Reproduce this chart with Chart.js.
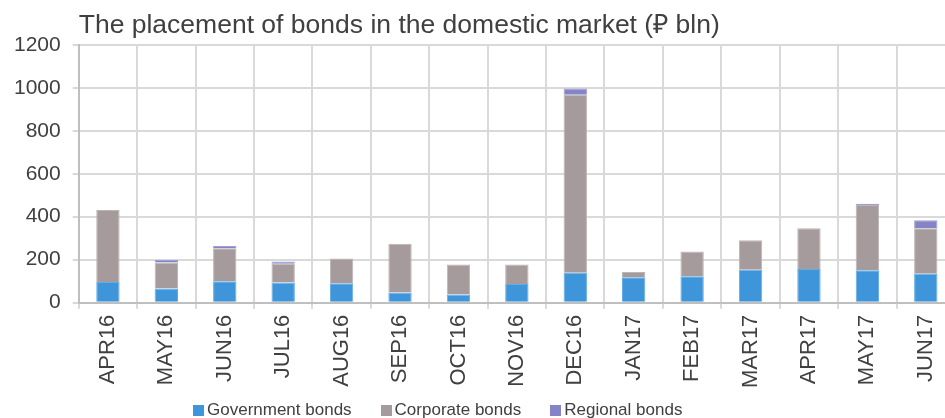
<!DOCTYPE html>
<html>
<head>
<meta charset="utf-8">
<title>Bond placement</title>
<script src="https://cdn.jsdelivr.net/npm/chart.js@4.4.1/dist/chart.umd.min.js"></script>
<style>
  html, body { margin: 0; padding: 0; background: #fff; overflow: hidden; }
  .chart-box { position: relative; width: 960px; height: 418px; }
  #legend {
    position: absolute; left: 193px; top: 400px;
    display: flex; gap: 29px;
    font: 17px "Liberation Sans", Arial, sans-serif; color: #404040;
  }
  .legend-item { display: flex; align-items: center; white-space: nowrap; }
  .legend-item__box { width: 11px; height: 11px; margin-right: 3px; }
</style>
</head>
<body>
<div class="chart-box">
  <canvas id="bondsChart"></canvas>
  <div id="legend"></div>
</div>
<script>
/* Monthly placement of bonds, RUB bln */
const MONTHS = ["APR16", "MAY16", "JUN16", "JUL16", "AUG16", "SEP16", "OCT16", "NOV16",
  "DEC16", "JAN17", "FEB17", "MAR17", "APR17", "MAY17", "JUN17"];
const GOVERNMENT = [96, 66, 99, 94, 90, 47, 38, 87, 139, 118, 123, 153, 156, 151, 134];
const CORPORATE = [335, 121, 154, 87, 115, 227, 140, 91, 828, 25, 115, 137, 190, 304, 212];
const REGIONAL = [0, 11, 11, 11, 0, 0, 0, 0, 30, 0, 0, 0, 0, 5, 38];
const Y_TICKS = [0, 200, 400, 600, 800, 1000, 1200];

const TEXT_COLOR = "#404040";
const GRID_COLOR = "#d9d9d9";
const AXIS_COLOR = "#bfbfbf";
const FONT = "'Liberation Sans', Arial, sans-serif";

Chart.defaults.font.family = FONT;
Chart.defaults.color = TEXT_COLOR;

function series(label, data, color, edge) {
  return {
    label,
    data,
    backgroundColor: color,
    borderColor: edge,
    borderWidth: 1,
    barPercentage: 0.4,
    categoryPercentage: 1
  };
}

/* legend drawn as html under the canvas */
const htmlLegend = {
  id: "htmlLegend",
  afterUpdate(chart) {
    const box = document.getElementById("legend");
    box.innerHTML = "";
    chart.data.datasets.forEach((ds) => {
      const item = document.createElement("span");
      item.className = "legend-item";
      const sw = document.createElement("span");
      sw.className = "legend-item__box";
      sw.style.background = ds.backgroundColor;
      item.appendChild(sw);
      item.appendChild(document.createTextNode(ds.label));
      box.appendChild(item);
    });
  }
};

new Chart(document.getElementById("bondsChart"), {
  type: "bar",
  data: {
    labels: MONTHS,
    datasets: [
      series("Government bonds", GOVERNMENT, "#3e95da", "#64aae3"),
      series("Corporate bonds", CORPORATE, "#a69b9c", "#bdb4b5"),
      series("Regional bonds", REGIONAL, "#8484c6", "#a0a0d4")
    ]
  },
  options: {
    responsive: true,
    maintainAspectRatio: false,
    animation: false,
    layout: { padding: { left: 2, right: 5, top: 0, bottom: 24 } },
    plugins: {
      legend: { display: false },
      tooltip: { enabled: false },
      title: {
        display: true,
        text: "The placement of bonds in the domestic market (₽ bln)",
        align: "start",
        fullSize: false,
        color: TEXT_COLOR,
        font: { size: 26.5, weight: "normal" },
        padding: { top: 10, bottom: 3 }
      }
    },
    scales: {
      x: {
        stacked: true,
        grid: { color: GRID_COLOR, lineWidth: 2, tickLength: 6, offset: true },
        border: { color: AXIS_COLOR, width: 2 },
        ticks: {
          minRotation: 90,
          maxRotation: 90,
          autoSkip: false,
          padding: 6,
          color: TEXT_COLOR,
          font: { size: 22 }
        }
      },
      y: {
        stacked: true,
        min: Y_TICKS[0],
        max: Y_TICKS[Y_TICKS.length - 1],
        afterBuildTicks(axis) {
          axis.ticks = Y_TICKS.map((v) => ({ value: v }));
        },
        grid: { color: GRID_COLOR, lineWidth: 2, tickLength: 6 },
        border: { color: AXIS_COLOR, width: 2 },
        ticks: {
          padding: 12,
          color: TEXT_COLOR,
          font: { size: 21 },
          callback: (v) => String(v)
        }
      }
    }
  },
  plugins: [htmlLegend]
});
</script>
</body>
</html>
